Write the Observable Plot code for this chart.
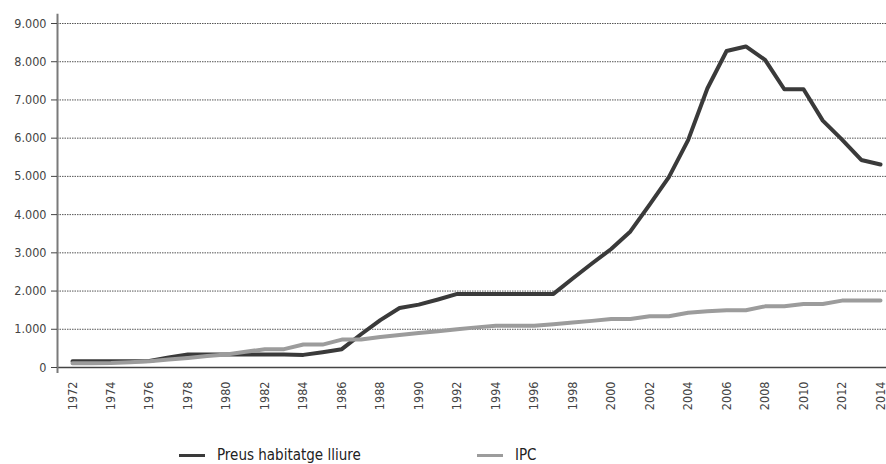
<!DOCTYPE html>
<html>
<head>
<meta charset="utf-8">
<script src="https://cdn.jsdelivr.net/npm/d3@7"></script>
<script src="https://cdn.jsdelivr.net/npm/@observablehq/plot@0.6"></script>
<style>
  html, body { margin: 0; padding: 0; background: #fff; }
  #wrap { position: relative; width: 886px; height: 464px; overflow: hidden;
          font-family: "Liberation Sans Narrow", "Arial Narrow", "DejaVu Sans Condensed", sans-serif; }
  #legend { position: absolute; top: 446px; left: 0; width: 886px; height: 18px; }
  .item { position: absolute; top: 0; display: flex; align-items: center; height: 18px;
          font-size: 15px; color: #222; white-space: nowrap; }
  .sw { width: 26px; height: 3px; margin-right: 12px; }
</style>
</head>
<body>
<div id="wrap">
  <div id="chart"></div>
  <div id="legend">
    <div class="item" style="left:179px"><span class="sw" style="background:#3a3a3a"></span>Preus habitatge lliure</div>
    <div class="item" style="left:477px"><span class="sw" style="background:#9c9c9c"></span>IPC</div>
  </div>
</div>
<script>
const years = d3.range(1972, 2015);
const housing = [165, 165, 165, 165, 170, 260, 340, 340, 340, 340, 340, 340, 330, 400, 480,
  870, 1240, 1555, 1645, 1780, 1925, 1925, 1925, 1925, 1925, 1925, 2330, 2720, 3100, 3560,
  4260, 4980, 5950, 7300, 8280, 8400, 8050, 7280, 7280, 6460, 5960, 5430, 5310];
const ipc = [110, 110, 115, 140, 165, 210, 250, 300, 340, 410, 480, 480, 600, 600, 730,
  730, 800, 850, 900, 950, 1000, 1050, 1090, 1090, 1090, 1130, 1180, 1220, 1270, 1270,
  1340, 1340, 1430, 1470, 1500, 1500, 1600, 1600, 1660, 1660, 1750, 1750, 1750];
const seriesNames = ["Preus habitatge lliure", "IPC"];
const yTicks = [0, 1000, 2000, 3000, 4000, 5000, 6000, 7000, 8000, 9000];
const xTicks = years.filter(y => y % 2 === 0);

const rowsH = years.map((y, i) => ({year: y, value: housing[i], s: seriesNames[0]}));
const rowsI = years.map((y, i) => ({year: y, value: ipc[i], s: seriesNames[1]}));
const fmt = v => v === 0 ? "0" : d3.format(",")(v).replace(/,/g, ".");

const chart = Plot.plot({
  width: 886,
  height: 425,
  marginLeft: 57,
  insetLeft: 15,
  marginRight: 0,
  insetRight: 6,
  marginTop: 23,
  marginBottom: 58,
  style: {fontFamily: '"Liberation Sans Narrow", "Arial Narrow", "DejaVu Sans Condensed", sans-serif', background: "#fff", overflow: "visible"},
  x: {domain: [1972, 2014]},
  y: {domain: [0, 9000]},
  marks: [
    Plot.ruleY(yTicks.filter(d => d > 0), {stroke: "#555", strokeWidth: 1, strokeDasharray: "1.5,1"}),
    Plot.ruleY([0], {stroke: "#444", strokeWidth: 1.5}),
    Plot.ruleX([1972], {dx: -15, y1: -160, y2: 9240, stroke: "#7a7a7a", strokeWidth: 2}),
    Plot.axisY({ticks: yTicks, tickFormat: fmt, tickSize: 6, tickPadding: 5, fontSize: 12.5, color: "#444", label: null, stroke: "#444"}),
    Plot.axisX({ticks: xTicks, tickFormat: d => String(d), tickRotate: -90, tickSize: 0, tickPadding: 14, fontSize: 12.5, color: "#444", label: null}),
    Plot.line(rowsH, {x: "year", y: "value", stroke: "#3a3a3a", strokeWidth: 4, strokeLinejoin: "round"}),
    Plot.line(rowsI, {x: "year", y: "value", stroke: "#9c9c9c", strokeWidth: 4, strokeLinejoin: "round"})
  ]
});
document.getElementById("chart").appendChild(chart);
</script>
</body>
</html>
